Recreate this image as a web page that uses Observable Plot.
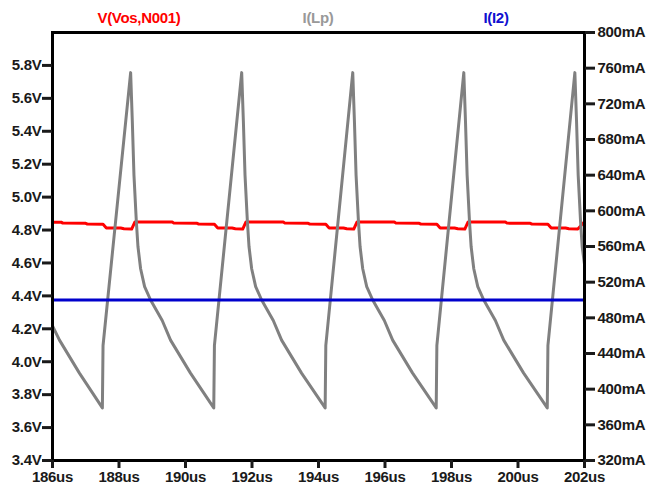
<!DOCTYPE html>
<html><head><meta charset="utf-8">
<script src="https://cdn.jsdelivr.net/npm/d3@7"></script>
<script src="https://cdn.jsdelivr.net/npm/@observablehq/plot@0.6"></script>
<style>
body{margin:0;background:#fff;font-family:"Liberation Sans",Arial,sans-serif}
#wrap{position:relative;width:646px;height:486px}
#legend{position:absolute;top:0;left:0;width:646px;height:30px;font-weight:bold;font-size:15px;letter-spacing:-0.3px}
#legend span{position:absolute;top:9px;transform:translateX(-50%);white-space:nowrap}
svg text{letter-spacing:-0.3px}
</style></head><body><div id="wrap"><div id="legend"></div></div>
<script>
// ---- data ----
const seriesNames = ["V(Vos,N001)", "I(Lp)", "I(I2)"];
const xTicks = [186, 188, 190, 192, 194, 196, 198, 200, 202];
const vTicks = [3.4, 3.6, 3.8, 4.0, 4.2, 4.4, 4.6, 4.8, 5.0, 5.2, 5.4, 5.6, 5.8];
const mATicks = [320, 360, 400, 440, 480, 520, 560, 600, 640, 680, 720, 760, 800];

// V(Vos,N001) in volts (left axis), time in us
const vTime = [186.00,186.26,186.31,187.00,187.05,187.52,187.62,188.05,188.15,188.38,188.48,
  189.60,189.65,190.35,190.40,190.87,190.97,191.40,191.50,191.72,191.82,
  192.94,192.99,193.69,193.74,194.22,194.32,194.75,194.85,195.06,195.16,
  196.28,196.33,197.03,197.08,197.56,197.66,198.09,198.19,198.40,198.50,
  199.62,199.67,200.37,200.42,200.90,201.00,201.43,201.53,201.80,202.00];
const vVolts = [4.848,4.848,4.842,4.841,4.836,4.835,4.813,4.812,4.808,4.806,4.849,
  4.849,4.842,4.841,4.836,4.835,4.813,4.812,4.808,4.806,4.849,
  4.849,4.842,4.841,4.836,4.835,4.813,4.812,4.808,4.806,4.849,
  4.849,4.842,4.841,4.836,4.835,4.813,4.812,4.808,4.806,4.849,
  4.849,4.842,4.841,4.836,4.835,4.813,4.812,4.808,4.806,4.850];

// I(Lp) in mA (right axis)
const lpTime = [186.00,186.21,186.81,187.50,187.52,
  188.35,188.40,188.45,188.52,188.57,188.65,188.77,188.95,189.30,189.55,190.15,190.85,190.87,
  191.69,191.74,191.79,191.86,191.91,191.99,192.11,192.29,192.64,192.89,193.49,194.20,194.22,
  195.03,195.08,195.13,195.20,195.25,195.33,195.45,195.63,195.98,196.23,196.83,197.54,197.56,
  198.37,198.42,198.47,198.54,198.59,198.67,198.79,198.97,199.32,199.57,200.17,200.88,200.90,
  201.71,201.76,201.81,201.88,201.93,202.00];
const lpCurrent = [471,455,418,379,449,
  755,701,640,589,560,535,515,500,477,455,418,379,449,
  755,701,640,589,560,535,515,500,477,455,418,379,449,
  755,701,640,589,560,535,515,500,477,455,418,379,449,
  755,701,640,589,560,535,515,500,477,455,418,379,449,
  755,701,640,589,560,540];

// I(I2) in mA (right axis)
const i2Time = [186, 202];
const i2Current = [500, 500];

// ---- chart ----
const colors = ["#ff0000", "#808080", "#0000cc"];
const legendColors = ["#ff0000", "#999999", "#1010d0"];
const toV = d3.scaleLinear([320, 800], [3.4, 6.0]);

const vData = vTime.map((t, i) => ({t, v: vVolts[i]}));
const lpData = lpTime.map((t, i) => ({t, v: toV(lpCurrent[i])}));
const i2Data = i2Time.map((t, i) => ({t, v: toV(i2Current[i])}));

const plot = Plot.plot({
  width: 646, height: 486,
  marginLeft: 52, marginRight: 62, marginTop: 32, marginBottom: 26,
  style: {fontFamily: "'Liberation Sans', Arial, sans-serif", fontSize: "15px", fontWeight: "bold", color: "#1a1a1a", background: "#fff"},
  x: {domain: [186, 202]},
  y: {domain: [3.4, 6.0]},
  marks: [
    Plot.line(vData, {x: "t", y: "v", stroke: colors[0], strokeWidth: 3}),
    Plot.line(lpData, {x: "t", y: "v", stroke: colors[1], strokeWidth: 3}),
    Plot.line(i2Data, {x: "t", y: "v", stroke: colors[2], strokeWidth: 3}),
    Plot.frame({stroke: "#000", strokeWidth: 3}),
    Plot.axisX(xTicks, {tickFormat: d => d + "us", tickSize: 8, tickPadding: 3, strokeWidth: 3, label: null}),
    Plot.axisY(vTicks, {anchor: "left", tickFormat: d => d.toFixed(1) + "V", tickSize: 10, tickPadding: 1, strokeWidth: 3, label: null}),
    Plot.axisY(mATicks.map(toV), {anchor: "right", tickFormat: d => Math.round(toV.invert(d)) + "mA", tickSize: 10, tickPadding: 3, strokeWidth: 3, label: null})
  ]
});
document.getElementById("wrap").appendChild(plot);

const legendX = [139, 318, 496];
const lg = document.getElementById("legend");
seriesNames.forEach((n, i) => {
  const s = document.createElement("span");
  s.textContent = n;
  s.style.left = legendX[i] + "px";
  s.style.color = legendColors[i];
  lg.appendChild(s);
});
</script>
</body></html>
